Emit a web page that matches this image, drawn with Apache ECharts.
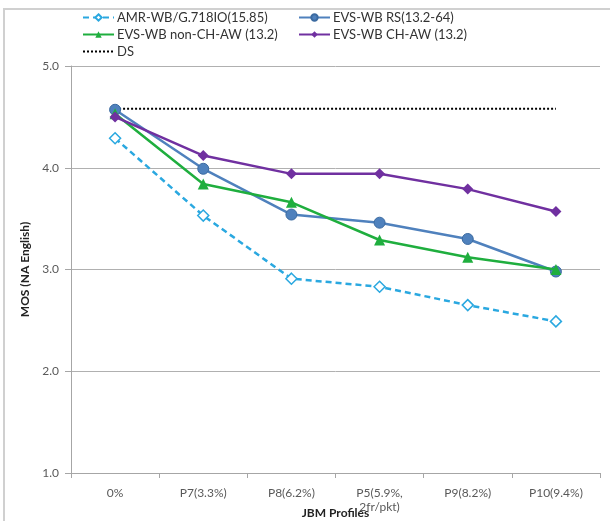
<!DOCTYPE html>
<html><head><meta charset="utf-8">
<script src="https://cdn.jsdelivr.net/npm/echarts@6/dist/echarts.min.js"></script>
<style>html,body{margin:0;padding:0;background:#fff}#c{width:610px;height:521px}</style>
</head><body><div id="c"></div>
<script>
const categories = ['0%', 'P7(3.3%)', 'P8(6.2%)', 'P5(5.9%,\n2fr/pkt)', 'P9(8.2%)', 'P10(9.4%)'];
const amrWb = [4.29, 3.53, 2.91, 2.83, 2.65, 2.49];
const evsRs = [4.57, 3.99, 3.54, 3.46, 3.30, 2.98];
const evsNonChAw = [4.53, 3.84, 3.66, 3.29, 3.12, 3.00];
const evsChAw = [4.50, 4.12, 3.94, 3.94, 3.79, 3.57];
const ds = [4.58, 4.58, 4.58, 4.58, 4.58, 4.58];
const seriesNames = ['AMR-WB/G.718IO(15.85)', 'EVS-WB RS(13.2-64)', 'EVS-WB non-CH-AW (13.2)', 'EVS-WB CH-AW (13.2)', 'DS'];

const font = 'Lato, "Open Sans", sans-serif';
const chart = echarts.init(document.getElementById('c'));
const legendBase = {top: 6, orient: 'vertical', itemGap: 4, itemWidth: 31, itemHeight: 8,
  textStyle: {fontSize: 13, color: '#333', fontFamily: font, padding: [0, 0, 0, -2]}};
chart.setOption({
  animation: false,
  textStyle: {fontFamily: font},
  graphic: [{type: 'rect', shape: {x: 4, y: 9, width: 640, height: 560}, style: {fill: 'none', stroke: '#d0d0d0', lineWidth: 2}}],
  legend: [
    Object.assign({left: 77, data: [seriesNames[0], seriesNames[2], {name: seriesNames[4], itemStyle: {opacity: 0}}]}, legendBase),
    Object.assign({left: 293, data: [seriesNames[1], seriesNames[3]]}, legendBase)
  ],
  grid: {left: 71, right: 10, top: 66, bottom: 48, outerBoundsMode: 'none', containLabel: false},
  xAxis: {
    type: 'category', data: categories, boundaryGap: true,
    name: 'JBM Profiles', nameLocation: 'middle', nameGap: 40, nameMoveOverlap: false,
    nameTextStyle: {fontWeight: 'bold', fontSize: 12, color: '#222', fontFamily: font, verticalAlign: 'middle'},
    axisLine: {lineStyle: {color: '#a6a6a6'}},
    axisTick: {show: true, length: 5, lineStyle: {color: '#a6a6a6'}},
    axisLabel: {color: '#595959', fontSize: 12, margin: 13, lineHeight: 14, interval: 0}
  },
  yAxis: {
    type: 'value', min: 1, max: 5, interval: 1,
    name: 'MOS (NA English)', nameLocation: 'middle', nameGap: 40, nameMoveOverlap: false,
    nameTextStyle: {fontWeight: 'bold', fontSize: 12, color: '#222', fontFamily: font},
    axisLine: {show: true, lineStyle: {color: '#a6a6a6'}},
    axisTick: {show: true, length: 6, lineStyle: {color: '#a6a6a6'}},
    axisLabel: {color: '#595959', fontSize: 12, margin: 12, formatter: v => v.toFixed(1)},
    splitLine: {lineStyle: {color: '#b0b0b0'}}
  },
  series: [
    {name: seriesNames[0], type: 'line', data: amrWb, symbol: 'diamond', symbolSize: 11,
     lineStyle: {color: '#2aa8e0', width: 2.5, type: [6, 4]},
     itemStyle: {color: '#ffffff', borderColor: '#2aa8e0', borderWidth: 1.5}, z: 2},
    {name: seriesNames[1], type: 'line', data: evsRs, symbol: 'circle', symbolSize: 11,
     lineStyle: {color: '#4f81bd', width: 2.5},
     itemStyle: {color: '#4f81bd', borderColor: '#3b6aa0', borderWidth: 1}, z: 3},
    {name: seriesNames[2], type: 'line', data: evsNonChAw, symbol: 'triangle', symbolSize: 11,
     lineStyle: {color: '#1fae3e', width: 2.5},
     itemStyle: {color: '#1fae3e'}, z: 4},
    {name: seriesNames[3], type: 'line', data: evsChAw, symbol: 'diamond', symbolSize: 11,
     lineStyle: {color: '#7030a0', width: 2.5},
     itemStyle: {color: '#7030a0'}, z: 5},
    {name: seriesNames[4], type: 'line', data: ds, symbol: 'none',
     lineStyle: {color: '#000000', width: 2, type: [2, 2]},
     itemStyle: {color: '#000000'}, z: 1}
  ]
});
</script></body></html>
